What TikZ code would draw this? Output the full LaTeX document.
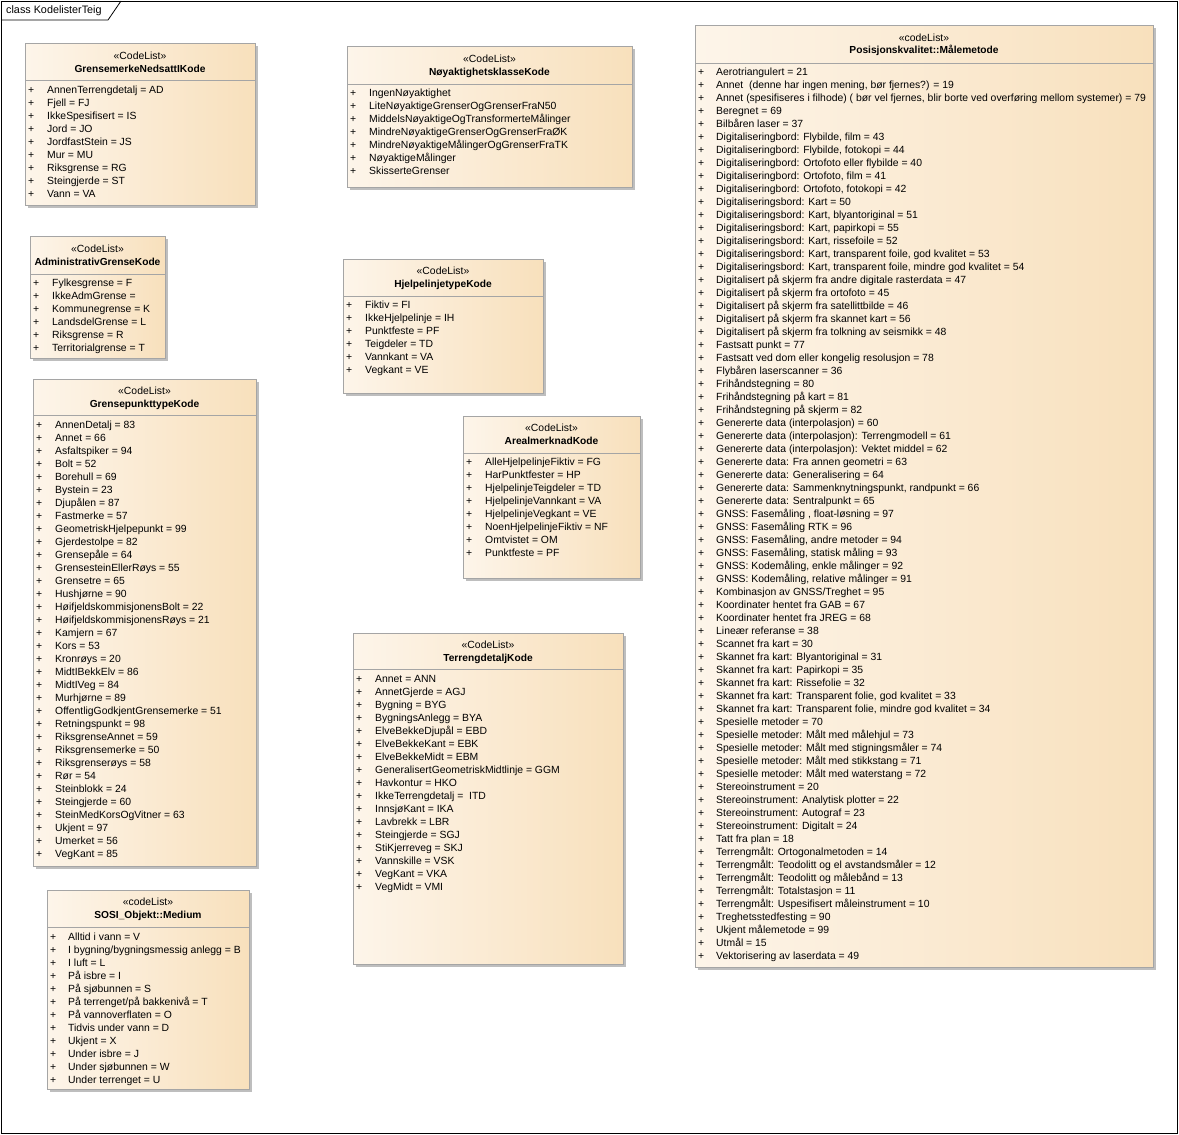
\documentclass[tikz,border=0pt]{standalone}
\usepackage{fontspec}
\setmainfont{Liberation Sans}
\usepackage{tikz}
\usetikzlibrary{positioning, calc}
\definecolor{boxL}{RGB}{253,245,234}
\definecolor{boxR}{RGB}{248,224,188}
\definecolor{boxLine}{RGB}{165,165,165}
\definecolor{boxShadow}{RGB}{190,190,190}

\begin{document}
\begin{tikzpicture}[x=1pt, y=-1pt,
    every node/.style={font=\fontsize{10.4}{12}\selectfont, inner sep=0pt},
    shadowbox/.style={fill=boxShadow, draw=none},
    codebox/.style={left color=boxL, right color=boxR, draw=boxLine, line width=0.8pt},
    sepline/.style={draw=boxLine, line width=0.8pt},
    stereo/.style={anchor=center, text height=8pt, text depth=1pt},
    titletext/.style={anchor=center, text height=8pt, text depth=1pt, font=\fontsize{10.2}{12}\selectfont\bfseries},
    plus/.style={anchor=west, text height=8pt, text depth=1pt},
    itemtext/.style={anchor=west, text height=8pt, text depth=1pt}
]
    \useasboundingbox (0,0) rectangle (1179,1135);

    % --- Rammen ---
    \draw[line width=0.8pt] (1,1) rectangle (1177,1133);
    \draw[line width=0.8pt] (1,20) -- (108,20) -- (121,1);
    \node[anchor=west, text height=8pt, text depth=1pt, font=\fontsize{10.8}{12}\selectfont] (frameLabel) at (6,10) {class KodelisterTeig};

    % --- GrensemerkeNedsattIKode ---
    \fill[shadowbox] (28,46) rectangle (258,208);
    \draw[codebox] (25,43) rectangle (255,205);
    \draw[sepline] (25,80) -- (255,80);
    \node[stereo] (gmSt) at (140,56) {«CodeList»};
    \node[titletext] (gm) at (140,69) {GrensemerkeNedsattIKode};
    \foreach \entry [count=\i] in {AnnenTerrengdetalj = AD, Fjell = FJ, IkkeSpesifisert = IS,
        Jord = JO, JordfastStein = JS, Mur = MU, Riksgrense = RG, Steingjerde = ST, Vann = VA} {
        \node[plus] (gmP\i) at (28,{90+13*(\i-1)}) {+};
        \node[itemtext] (gm\i) at (47,{90+13*(\i-1)}) {\entry};
    }

    % --- AdministrativGrenseKode ---
    \fill[shadowbox] (33,239) rectangle (168,361);
    \draw[codebox] (30,236) rectangle (165,358);
    \draw[sepline] (30,274) -- (165,274);
    \node[stereo] (agSt) at (97.5,249) {«CodeList»};
    \node[titletext] (ag) at (97.5,262) {AdministrativGrenseKode};
    \foreach \entry [count=\i] in {Fylkesgrense = F, IkkeAdmGrense =, Kommunegrense = K,
        LandsdelGrense = L, Riksgrense = R, Territorialgrense = T} {
        \node[plus] (agP\i) at (33,{283+13*(\i-1)}) {+};
        \node[itemtext] (ag\i) at (52,{283+13*(\i-1)}) {\entry};
    }

    % --- GrensepunkttypeKode ---
    \fill[shadowbox] (36,382) rectangle (259,869);
    \draw[codebox] (33,379) rectangle (256,866);
    \draw[sepline] (33,415) -- (256,415);
    \node[stereo] (gpSt) at (144.5,391) {«CodeList»};
    \node[titletext] (gp) at (144.5,404) {GrensepunkttypeKode};
    \foreach \entry [count=\i] in {AnnenDetalj = 83, Annet = 66, Asfaltspiker = 94, Bolt = 52,
        Borehull = 69, Bystein = 23, Djupålen = 87, Fastmerke = 57, GeometriskHjelpepunkt = 99,
        Gjerdestolpe = 82, Grensepåle = 64, GrensesteinEllerRøys = 55, Grensetre = 65,
        Hushjørne = 90, HøifjeldskommisjonensBolt = 22, HøifjeldskommisjonensRøys = 21,
        Kamjern = 67, Kors = 53, Kronrøys = 20, MidtIBekkElv = 86, MidtIVeg = 84, Murhjørne = 89,
        OffentligGodkjentGrensemerke = 51, Retningspunkt = 98, RiksgrenseAnnet = 59,
        Riksgrensemerke = 50, Riksgrenserøys = 58, Rør = 54, Steinblokk = 24, Steingjerde = 60,
        SteinMedKorsOgVitner = 63, Ukjent = 97, Umerket = 56, VegKant = 85} {
        \node[plus] (gpP\i) at (36,{425+13*(\i-1)}) {+};
        \node[itemtext] (gp\i) at (55,{425+13*(\i-1)}) {\entry};
    }

    % --- SOSI_Objekt::Medium ---
    \fill[shadowbox] (50,893) rectangle (252,1092);
    \draw[codebox] (47,890) rectangle (249,1089);
    \draw[sepline] (47,927) -- (249,927);
    \node[stereo] (meSt) at (148,902) {«codeList»};
    \node[titletext] (me) at (148,915) {SOSI\_Objekt::Medium};
    \foreach \entry [count=\i] in {Alltid i vann = V, I bygning/bygningsmessig anlegg = B,
        I luft = L, På isbre = I, På sjøbunnen = S, På terrenget/på bakkenivå = T,
        På vannoverflaten = O, Tidvis under vann = D, Ukjent = X, Under isbre = J,
        Under sjøbunnen = W, Under terrenget = U} {
        \node[plus] (meP\i) at (50,{937+13*(\i-1)}) {+};
        \node[itemtext] (me\i) at (68,{937+13*(\i-1)}) {\entry};
    }

    % --- NøyaktighetsklasseKode ---
    \fill[shadowbox] (350,49) rectangle (635,190);
    \draw[codebox] (347,46) rectangle (632,187);
    \draw[sepline] (347,84) -- (632,84);
    \node[stereo] (nkSt) at (489.5,59) {«CodeList»};
    \node[titletext] (nk) at (489.5,72) {NøyaktighetsklasseKode};
    \foreach \entry [count=\i] in {IngenNøyaktighet, LiteNøyaktigeGrenserOgGrenserFraN50,
        MiddelsNøyaktigeOgTransformerteMålinger, MindreNøyaktigeGrenserOgGrenserFraØK,
        MindreNøyaktigeMålingerOgGrenserFraTK, NøyaktigeMålinger, SkisserteGrenser} {
        \node[plus] (nkP\i) at (350,{93+13*(\i-1)}) {+};
        \node[itemtext] (nk\i) at (369,{93+13*(\i-1)}) {\entry};
    }

    % --- HjelpelinjetypeKode ---
    \fill[shadowbox] (346,262) rectangle (546,396);
    \draw[codebox] (343,259) rectangle (543,393);
    \draw[sepline] (343,296) -- (543,296);
    \node[stereo] (hlSt) at (443,271) {«CodeList»};
    \node[titletext] (hl) at (443,284) {HjelpelinjetypeKode};
    \foreach \entry [count=\i] in {Fiktiv = FI, IkkeHjelpelinje = IH, Punktfeste = PF,
        Teigdeler = TD, Vannkant = VA, Vegkant = VE} {
        \node[plus] (hlP\i) at (346,{305+13*(\i-1)}) {+};
        \node[itemtext] (hl\i) at (365,{305+13*(\i-1)}) {\entry};
    }

    % --- ArealmerknadKode ---
    \fill[shadowbox] (466,419) rectangle (643,581);
    \draw[codebox] (463,416) rectangle (640,578);
    \draw[sepline] (463,453) -- (640,453);
    \node[stereo] (amSt) at (551.5,428) {«CodeList»};
    \node[titletext] (am) at (551.5,441) {ArealmerknadKode};
    \foreach \entry [count=\i] in {AlleHjelpelinjeFiktiv = FG, HarPunktfester = HP,
        HjelpelinjeTeigdeler = TD, HjelpelinjeVannkant = VA, HjelpelinjeVegkant = VE,
        NoenHjelpelinjeFiktiv = NF, Omtvistet = OM, Punktfeste = PF} {
        \node[plus] (amP\i) at (466,{462+13*(\i-1)}) {+};
        \node[itemtext] (am\i) at (485,{462+13*(\i-1)}) {\entry};
    }

    % --- TerrengdetaljKode ---
    \fill[shadowbox] (356,636) rectangle (626,967);
    \draw[codebox] (353,633) rectangle (623,964);
    \draw[sepline] (353,669) -- (623,669);
    \node[stereo] (tdSt) at (488,645) {«CodeList»};
    \node[titletext] (td) at (488,658) {TerrengdetaljKode};
    \foreach \entry [count=\i] in {Annet = ANN, AnnetGjerde = AGJ, Bygning = BYG,
        BygningsAnlegg = BYA, ElveBekkeDjupål = EBD, ElveBekkeKant = EBK, ElveBekkeMidt = EBM,
        GeneralisertGeometriskMidtlinje = GGM, Havkontur = HKO, IkkeTerrengdetalj =\ \ ITD,
        InnsjøKant = IKA, Lavbrekk = LBR, Steingjerde = SGJ, StiKjerreveg = SKJ,
        Vannskille = VSK, VegKant = VKA, VegMidt = VMI} {
        \node[plus] (tdP\i) at (356,{679+13*(\i-1)}) {+};
        \node[itemtext] (td\i) at (375,{679+13*(\i-1)}) {\entry};
    }

    % --- Posisjonskvalitet::Målemetode ---
    \fill[shadowbox] (698,28) rectangle (1156,970);
    \draw[codebox] (695,25) rectangle (1153,967);
    \draw[sepline] (695,63) -- (1153,63);
    \node[stereo] (pkSt) at (924,38) {«codeList»};
    \node[titletext] (pk) at (924,50) {Posisjonskvalitet::Målemetode};
    \foreach \entry [count=\i] in {Aerotriangulert = 21,
        Annet\ \ (denne har ingen mening{,} bør fjernes?) = 19,
        {Annet (spesifiseres i filhode) ( bør vel fjernes, blir borte ved overføring mellom systemer) = 79},
        Beregnet = 69, Bilbåren laser = 37,
        {Digitaliseringbord: Flybilde, film = 43}, {Digitaliseringbord: Flybilde, fotokopi = 44},
        Digitaliseringbord: Ortofoto eller flybilde = 40,
        {Digitaliseringbord: Ortofoto, film = 41}, {Digitaliseringbord: Ortofoto, fotokopi = 42},
        Digitaliseringsbord: Kart = 50, {Digitaliseringsbord: Kart, blyantoriginal = 51},
        {Digitaliseringsbord: Kart, papirkopi = 55}, {Digitaliseringsbord: Kart, rissefoile = 52},
        {Digitaliseringsbord: Kart, transparent foile, god kvalitet = 53},
        {Digitaliseringsbord: Kart, transparent foile, mindre god kvalitet = 54},
        Digitalisert på skjerm fra andre digitale rasterdata = 47,
        Digitalisert på skjerm fra ortofoto = 45, Digitalisert på skjerm fra satellittbilde = 46,
        Digitalisert på skjerm fra skannet kart = 56,
        Digitalisert på skjerm fra tolkning av seismikk = 48, Fastsatt punkt = 77,
        Fastsatt ved dom eller kongelig resolusjon = 78, Flybåren laserscanner = 36,
        Frihåndstegning = 80, Frihåndstegning på kart = 81, Frihåndstegning på skjerm = 82,
        Genererte data (interpolasjon) = 60, Genererte data (interpolasjon): Terrengmodell = 61,
        Genererte data (interpolasjon): Vektet middel = 62,
        Genererte data: Fra annen geometri = 63, Genererte data: Generalisering = 64,
        {Genererte data: Sammenknytningspunkt, randpunkt = 66},
        Genererte data: Sentralpunkt = 65, {GNSS: Fasemåling , float-løsning = 97},
        GNSS: Fasemåling RTK = 96, {GNSS: Fasemåling, andre metoder = 94},
        {GNSS: Fasemåling, statisk måling = 93}, {GNSS: Kodemåling, enkle målinger = 92},
        {GNSS: Kodemåling, relative målinger = 91}, Kombinasjon av GNSS/Treghet = 95,
        Koordinater hentet fra GAB = 67, Koordinater hentet fra JREG = 68,
        Lineær referanse = 38, Scannet fra kart = 30,
        Skannet fra kart: Blyantoriginal = 31, Skannet fra kart: Papirkopi = 35,
        Skannet fra kart: Rissefolie = 32,
        {Skannet fra kart: Transparent folie, god kvalitet = 33},
        {Skannet fra kart: Transparent folie, mindre god kvalitet = 34},
        Spesielle metoder = 70, Spesielle metoder: Målt med målehjul = 73,
        Spesielle metoder: Målt med stigningsmåler = 74,
        Spesielle metoder: Målt med stikkstang = 71, Spesielle metoder: Målt med waterstang = 72,
        Stereoinstrument = 20, Stereoinstrument: Analytisk plotter = 22,
        Stereoinstrument: Autograf = 23, Stereoinstrument: Digitalt = 24, Tatt fra plan = 18,
        Terrengmålt: Ortogonalmetoden = 14, Terrengmålt: Teodolitt og el avstandsmåler = 12,
        Terrengmålt: Teodolitt og målebånd = 13, Terrengmålt: Totalstasjon = 11,
        Terrengmålt: Uspesifisert måleinstrument = 10, Treghetsstedfesting = 90,
        Ukjent målemetode = 99, Utmål = 15, Vektorisering av laserdata = 49} {
        \node[plus] (pkP\i) at (698,{72+13*(\i-1)}) {+};
        \node[itemtext] (pk\i) at (716,{72+13*(\i-1)}) {\entry};
    }
\end{tikzpicture}
\end{document}
